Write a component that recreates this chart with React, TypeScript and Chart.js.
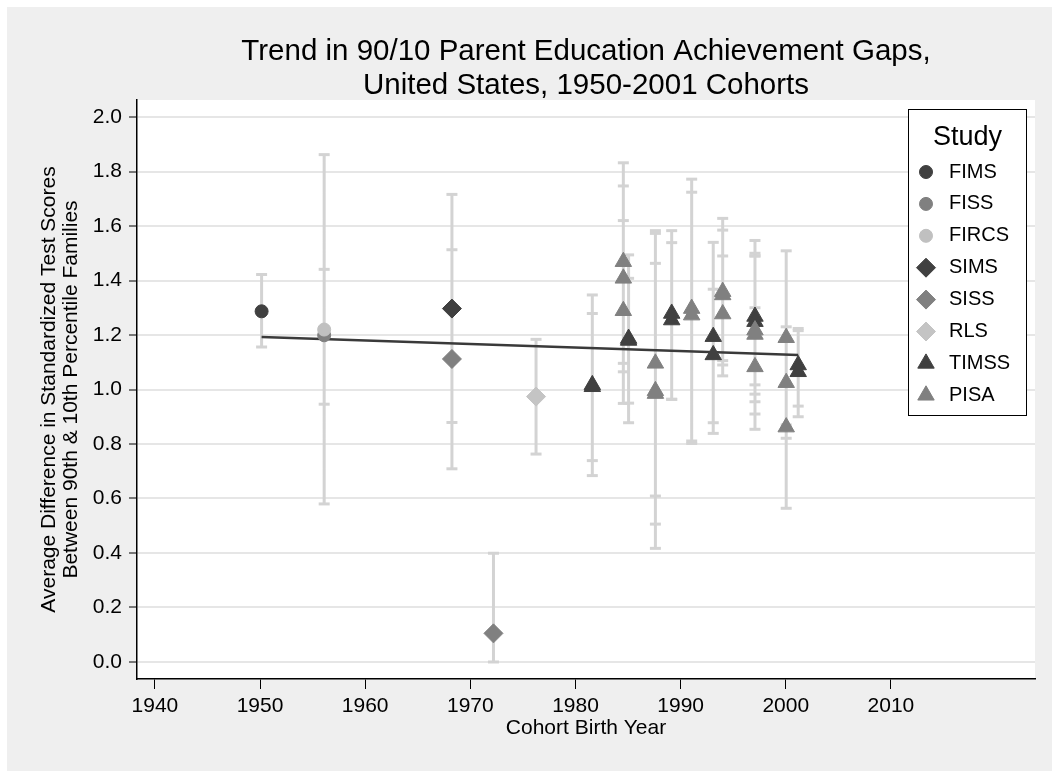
import React, { useEffect, useRef } from "react";
import { Chart, registerables } from "chart.js";
import { drawPoint } from "chart.js/helpers";

Chart.register(...registerables);

// ---------- data ----------
const STUDIES = ["FIMS", "FISS", "FIRCS", "SIMS", "SISS", "RLS", "TIMSS", "PISA"];
const STUDY_COLORS = ["#404040", "#808080", "#c0c0c0", "#404040", "#808080", "#c4c4c4", "#404040", "#808080"];
const STUDY_SHAPES = ["circle", "circle", "circle", "rectRot", "rectRot", "rectRot", "triangle", "triangle"];
const STUDY_RADII = [6.5, 6.5, 6.5, 9.5, 9.5, 9.5, 9.5, 9.5];

const FIMS_YEAR = [1950.15];
const FIMS_GAP = [1.287];
const FIMS_LO = [1.156];
const FIMS_HI = [1.422];

const FISS_YEAR = [1956.1];
const FISS_GAP = [1.199];
const FISS_LO = [0.946];
const FISS_HI = [1.441];

const FIRCS_YEAR = [1956.1];
const FIRCS_GAP = [1.22];
const FIRCS_LO = [0.58];
const FIRCS_HI = [1.862];

const SIMS_YEAR = [1968.25];
const SIMS_GAP = [1.297];
const SIMS_LO = [0.879];
const SIMS_HI = [1.716];

const SISS_YEAR = [1968.25, 1972.2];
const SISS_GAP = [1.112, 0.105];
const SISS_LO = [0.709, 0.0];
const SISS_HI = [1.513, 0.399];

const RLS_YEAR = [1976.25];
const RLS_GAP = [0.974];
const RLS_LO = [0.763];
const RLS_HI = [1.184];

const TIMSS_YEAR = [1981.6, 1981.6, 1985.05, 1985.05, 1989.15, 1989.15, 1993.1, 1993.1, 1997.07, 1997.07, 2001.18, 2001.18];
const TIMSS_GAP = [1.017, 1.01, 1.187, 1.18, 1.279, 1.255, 1.194, 1.127, 1.268, 1.249, 1.09, 1.065];
const TIMSS_LO = [0.684, 0.739, 0.878, 0.95, 0.964, 0.964, 0.839, 0.878, 0.983, 1.017, 0.939, 0.9];
const TIMSS_HI = [1.347, 1.279, 1.494, 1.408, 1.583, 1.539, 1.54, 1.368, 1.547, 1.49, 1.224, 1.216];

const PISA_YEAR = [1984.55, 1984.55, 1984.55, 1987.6, 1987.6, 1987.6, 1991.05, 1991.05, 1994.0, 1994.0, 1994.0, 1997.07, 1997.07, 1997.07, 2000.04, 2000.04, 2000.04];
const PISA_GAP = [1.469, 1.408, 1.289, 1.096, 0.995, 0.985, 1.297, 1.273, 1.359, 1.347, 1.277, 1.218, 1.202, 1.083, 1.19, 1.025, 0.862];
const PISA_LO = [1.096, 1.065, 0.949, 0.609, 0.417, 0.506, 0.811, 0.802, 1.09, 1.106, 1.05, 0.955, 0.91, 0.854, 0.87, 0.821, 0.564];
const PISA_HI = [1.832, 1.747, 1.62, 1.583, 1.573, 1.463, 1.772, 1.724, 1.628, 1.585, 1.49, 1.5, 1.49, 1.3, 1.509, 1.23, 1.178];

const FIT_YEAR = [1950.15, 2001.18];
const FIT_GAP = [1.193, 1.127];

const X_TICKS = [1940, 1950, 1960, 1970, 1980, 1990, 2000, 2010];
const Y_TICKS = [0, 0.2, 0.4, 0.6, 0.8, 1.0, 1.2, 1.4, 1.6, 1.8, 2.0];

const TITLE_LINES = ["Trend in 90/10 Parent Education Achievement Gaps,", "United States, 1950-2001 Cohorts"];
const X_TITLE = "Cohort Birth Year";
const Y_TITLE = ["Average Difference in Standardized Test Scores", "Between 90th & 10th Percentile Families"];
const LEGEND_TITLE = "Study";

const SERIES = [
  [FIMS_YEAR, FIMS_GAP, FIMS_LO, FIMS_HI],
  [FISS_YEAR, FISS_GAP, FISS_LO, FISS_HI],
  [FIRCS_YEAR, FIRCS_GAP, FIRCS_LO, FIRCS_HI],
  [SIMS_YEAR, SIMS_GAP, SIMS_LO, SIMS_HI],
  [SISS_YEAR, SISS_GAP, SISS_LO, SISS_HI],
  [RLS_YEAR, RLS_GAP, RLS_LO, RLS_HI],
  [TIMSS_YEAR, TIMSS_GAP, TIMSS_LO, TIMSS_HI],
  [PISA_YEAR, PISA_GAP, PISA_LO, PISA_HI],
];

// ---------- styling ----------
const FONT = '"Liberation Sans", Arial, Helvetica, sans-serif';
const BAR_COLOR = "#d3d3d3";
const OFF = 7;
const W = 1052 - OFF;
const H = 771 - OFF;
const AREA_LEFT = 137 - OFF;
const AREA_RIGHT = 1035 - OFF;
const AREA_TOP = 100 - OFF;
const AREA_BOTTOM = 679 - OFF;

const backgroundPlugin = {
  id: "bgPlugin",
  beforeDraw(chart: any) {
    const { ctx, chartArea } = chart;
    ctx.save();
    ctx.fillStyle = "#efefef";
    ctx.fillRect(0, 0, chart.width, chart.height);
    ctx.fillStyle = "#ffffff";
    ctx.fillRect(chartArea.left, chartArea.top, chartArea.right - chartArea.left, chartArea.bottom - chartArea.top);
    ctx.restore();
  },
};

const titlePlugin = {
  id: "titlePlugin",
  afterDraw(chart: any) {
    const { ctx, chartArea } = chart;
    const cx = (chartArea.left + chartArea.right) / 2;
    ctx.save();
    ctx.fillStyle = "#000";
    ctx.font = `29.5px ${FONT}`;
    ctx.textAlign = "center";
    ctx.textBaseline = "alphabetic";
    ctx.fillText(TITLE_LINES[0], cx, 60 - OFF);
    ctx.fillText(TITLE_LINES[1], cx, 94 - OFF);
    ctx.restore();
  },
};

const legendPlugin = {
  id: "legendPlugin",
  afterDraw(chart: any) {
    const { ctx } = chart;
    const bx = 908.5 - OFF, by = 109.5 - OFF, bw = 118, bh = 306;
    ctx.save();
    ctx.fillStyle = "#fff";
    ctx.fillRect(bx, by, bw, bh);
    ctx.strokeStyle = "#000";
    ctx.lineWidth = 1;
    ctx.strokeRect(bx, by, bw, bh);
    ctx.fillStyle = "#000";
    ctx.font = `27px ${FONT}`;
    ctx.textAlign = "center";
    ctx.textBaseline = "alphabetic";
    ctx.fillText(LEGEND_TITLE, bx + bw / 2, 145 - OFF);
    ctx.font = `20px ${FONT}`;
    ctx.textAlign = "left";
    ctx.textBaseline = "middle";
    STUDIES.forEach((name, i) => {
      const y = 172 - OFF + i * 31.9;
      ctx.fillStyle = STUDY_COLORS[i];
      ctx.strokeStyle = STUDY_COLORS[i];
      ctx.lineWidth = 1;
      drawPoint(ctx, { pointStyle: STUDY_SHAPES[i] as any, radius: STUDY_RADII[i], borderWidth: 1, rotation: 0 }, 926 - OFF, y);
      ctx.fillStyle = "#000";
      ctx.fillText(name, 949 - OFF, y);
    });
    ctx.restore();
  },
};

function buildDatasets() {
  const bars: any[] = [];
  const caps: any[] = [];
  SERIES.forEach(([xs, , lo, hi]) => {
    xs.forEach((x, j) => {
      bars.push({ x, y: lo[j] }, { x, y: hi[j] }, { x, y: null });
      caps.push({ x, y: lo[j] }, { x, y: hi[j] });
    });
  });
  const markers = SERIES.map(([xs, ys], i) => ({
    label: STUDIES[i],
    data: xs.map((x, j) => ({ x, y: ys[j] })),
    pointStyle: STUDY_SHAPES[i],
    pointRadius: STUDY_RADII[i],
    backgroundColor: STUDY_COLORS[i],
    borderColor: STUDY_COLORS[i],
    borderWidth: 1,
    showLine: false,
    order: 7 - i,
  }));
  return [
    ...markers,
    {
      label: "fit",
      data: FIT_YEAR.map((x, j) => ({ x, y: FIT_GAP[j] })),
      showLine: true,
      borderColor: "#3a3a3a",
      borderWidth: 2.5,
      pointRadius: 0,
      order: 8,
    },
    {
      label: "caps",
      data: caps,
      showLine: false,
      pointStyle: "line",
      pointRadius: 5.5,
      borderColor: BAR_COLOR,
      backgroundColor: BAR_COLOR,
      borderWidth: 3,
      order: 9,
    },
    {
      label: "bars",
      data: bars,
      showLine: true,
      spanGaps: false,
      borderColor: BAR_COLOR,
      borderWidth: 3,
      pointRadius: 0,
      order: 10,
    },
  ];
}

export default function App() {
  const ref = useRef<HTMLCanvasElement | null>(null);
  useEffect(() => {
    document.documentElement.style.overflow = "hidden";
    document.body.style.overflow = "hidden";
    if (!ref.current) return;
    const chart = new Chart(ref.current, {
      type: "scatter",
      data: { datasets: buildDatasets() as any },
      options: {
        animation: false,
        responsive: false,
        events: [],
        layout: { padding: { left: 0, right: W - AREA_RIGHT, top: AREA_TOP, bottom: 0 } },
        plugins: {
          legend: { display: false },
          tooltip: { enabled: false },
          title: { display: false },
        },
        scales: {
          x: {
            type: "linear",
            min: 1938.3,
            max: 2023.7,
            afterFit: (s: any) => {
              s.height = H - AREA_BOTTOM;
            },
            afterBuildTicks: (s: any) => {
              s.ticks = X_TICKS.map((v) => ({ value: v }));
            },
            ticks: {
              color: "#000",
              font: { family: FONT, size: 21 },
              padding: 5,
              maxRotation: 0,
              autoSkip: false,
              callback: (v: any) => String(v),
            },
            grid: {
              drawOnChartArea: false,
              drawTicks: true,
              tickLength: 10,
              tickColor: "#000",
              tickWidth: 1,
            },
            border: { display: true, color: "#000", width: 1.5 },
            title: {
              display: true,
              text: X_TITLE,
              color: "#000",
              font: { family: FONT, size: 21, lineHeight: 1.2 },
              padding: { top: 0, bottom: 30.4 },
            },
          },
          y: {
            type: "linear",
            min: -0.0625,
            max: 2.0625,
            afterFit: (s: any) => {
              s.width = AREA_LEFT;
            },
            afterBuildTicks: (s: any) => {
              s.ticks = Y_TICKS.map((v) => ({ value: v }));
            },
            ticks: {
              color: "#000",
              font: { family: FONT, size: 21 },
              padding: 7,
              autoSkip: false,
              callback: (v: any) => Number(v).toFixed(1),
            },
            grid: {
              color: "#e6e6e6",
              lineWidth: 2,
              drawTicks: true,
              tickLength: 8,
              tickColor: "#000",
              tickWidth: 1,
            },
            border: { display: true, color: "#000", width: 1.5 },
            title: {
              display: true,
              text: Y_TITLE,
              color: "#000",
              font: { family: FONT, size: 21, lineHeight: 22 / 21 },
              padding: { top: 31.5, bottom: 0 },
            },
          },
        },
      },
      plugins: [backgroundPlugin, titlePlugin, legendPlugin],
    });
    return () => chart.destroy();
  }, []);
  return (
    <canvas
      ref={ref}
      width={W}
      height={H}
      style={{ display: "block", position: "fixed", left: OFF, top: OFF, width: W, height: H }}
    />
  );
}
